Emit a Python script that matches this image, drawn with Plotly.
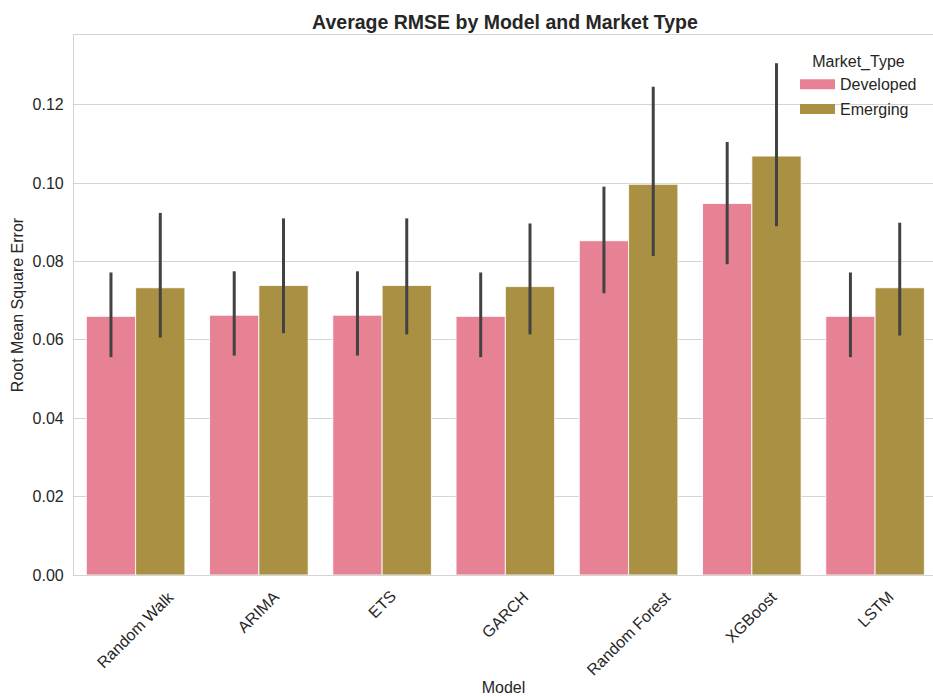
import plotly.graph_objects as go

# Average RMSE per forecasting model, split by market type, with 95% CI bounds
models = ["Random Walk", "ARIMA", "ETS", "GARCH", "Random Forest", "XGBoost", "LSTM"]
market_types = ["Developed", "Emerging"]

developed_mean = [0.0660, 0.0663, 0.0663, 0.0660, 0.0853, 0.0948, 0.0660]
developed_low = [0.0556, 0.0560, 0.0560, 0.0556, 0.0719, 0.0793, 0.0556]
developed_high = [0.0772, 0.0775, 0.0775, 0.0772, 0.0991, 0.1105, 0.0772]

emerging_mean = [0.0733, 0.0739, 0.0739, 0.0736, 0.0997, 0.1069, 0.0733]
emerging_low = [0.0606, 0.0617, 0.0614, 0.0614, 0.0814, 0.0890, 0.0611]
emerging_high = [0.0924, 0.0910, 0.0910, 0.0897, 0.1246, 0.1306, 0.0899]

y_ticks = [0.00, 0.02, 0.04, 0.06, 0.08, 0.10, 0.12]

colors = {"Developed": "#e68294", "Emerging": "#aa9043"}
text_color = "#262626"
grid_color = "#d4d4d4"
font_family = "Liberation Sans, Arial, sans-serif"

series = {
    "Developed": (developed_mean, developed_low, developed_high),
    "Emerging": (emerging_mean, emerging_low, emerging_high),
}

fig = go.Figure()
for mt in market_types:
    mean, low, high = series[mt]
    fig.add_trace(go.Bar(
        x=models,
        y=mean,
        name=mt,
        legendgroup=mt,
        showlegend=False,
        marker=dict(color=colors[mt], line=dict(color="rgba(255,255,255,0.85)", width=1)),
        error_y=dict(
            type="data",
            symmetric=False,
            array=[h - m for h, m in zip(high, mean)],
            arrayminus=[m - l for m, l in zip(mean, low)],
            color="#424242",
            thickness=3,
            width=0,
        ),
    ))
    # wide patch for the legend entry
    fig.add_trace(go.Scatter(
        x=[None], y=[None], mode="lines", name=mt, legendgroup=mt,
        line=dict(color=colors[mt], width=10.5),
        hoverinfo="skip",
    ))

# rotated category labels, centred under each group
for m in models:
    fig.add_annotation(
        x=m, xref="x", y=0, yref="paper", yshift=-10,
        text=m, textangle=-45, showarrow=False,
        xanchor="center", yanchor="top",
        font=dict(size=16, color=text_color, family=font_family),
    )

fig.update_layout(
    width=933,
    height=697,
    margin=dict(l=74, r=0, t=35, b=122),
    paper_bgcolor="white",
    plot_bgcolor="white",
    barmode="group",
    bargap=0.2,
    bargroupgap=0,
    font=dict(family=font_family, color=text_color, size=16),
    title=dict(
        text="Average RMSE by Model and Market Type",
        x=505 / 933, xref="container", xanchor="center",
        y=1 - 22.5 / 697, yref="container", yanchor="middle",
        font=dict(size=19.5, color=text_color, family=font_family, weight="bold"),
    ),
    legend=dict(
        title=dict(text="Market_Type", side="top center", font=dict(size=16, color=text_color)),
        font=dict(size=16, color=text_color),
        x=(795 - 74) / 859, xanchor="left",
        y=1 - (46.5 - 35) / 540, yanchor="top",
        bgcolor="rgba(255,255,255,0)",
        itemwidth=35,
        tracegroupgap=1,
    ),
    xaxis=dict(
        type="category",
        range=[-0.5, 6.47],
        showgrid=False,
        showticklabels=False,
        ticks="",
        showline=True, linecolor=grid_color, linewidth=1.2, mirror=True,
        zeroline=False,
        title=dict(text="Model", standoff=106, font=dict(size=16, color=text_color)),
        automargin=False,
    ),
    yaxis=dict(
        range=[0, 0.1378],
        tickvals=y_ticks,
        tickformat=".2f",
        showgrid=True, gridcolor=grid_color, gridwidth=1.2,
        showline=True, linecolor=grid_color, linewidth=1.2, mirror=False,
        zeroline=False,
        ticks="",
        ticklabelstandoff=6,
        tickfont=dict(size=16, color=text_color),
        title=dict(text="Root Mean Square Error", standoff=4, font=dict(size=16, color=text_color)),
        automargin=False,
    ),
)

fig.write_html("out.html")
